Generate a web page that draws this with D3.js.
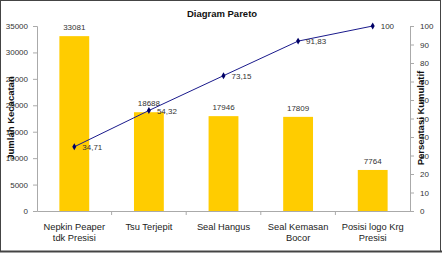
<!DOCTYPE html>
<html><head><meta charset="utf-8">
<script src="https://cdn.jsdelivr.net/npm/d3@7"></script>
<style>body{margin:0;background:#fff}svg{display:block;font-family:"Liberation Sans",Arial,sans-serif}</style>
</head><body><svg id="c" width="442" height="253"></svg>
<script>
const categories = [["Nepkin Peaper","tdk Presisi"],["Tsu Terjepit"],["Seal Hangus"],["Seal Kemasan","Bocor"],["Posisi logo Krg","Presisi"]];
const counts = [33081, 18688, 17946, 17809, 7764];
const cumulative = [34.71, 54.32, 73.15, 91.83, 100];
const cumLabels = ["34,71","54,32","73,15","91,83","100"];
const leftTicks = [0,5000,10000,15000,20000,25000,30000,35000];
const rightTicks = [0,10,20,30,40,50,60,70,80,90,100];

const svg = d3.select("#c");
const W=442,H=253;
const m={l:37,r:410,t:26,b:211};
svg.append("rect").attr("x",0.5).attr("y",0.5).attr("width",W-2).attr("height",H-2).attr("fill","#fff").attr("stroke","#444").attr("stroke-width",1);
svg.append("line").attr("x1",0).attr("x2",W).attr("y1",251.5).attr("y2",251.5).attr("stroke","#444").attr("stroke-width",2);

const x = d3.scaleBand().domain(d3.range(categories.length)).range([m.l,m.r]).paddingInner(0).paddingOuter(0);
const yL = d3.scaleLinear().domain([0,35000]).range([m.b,m.t]);
const yR = d3.scaleLinear().domain([0,100]).range([m.b,m.t]);

svg.append("text").attr("x",222).attr("y",17).attr("text-anchor","middle").attr("font-weight","bold").attr("font-size",9.5).attr("fill","#111").text("Diagram Pareto");

// bars
const bw = x.bandwidth()*0.4;
svg.selectAll(".bar").data(counts).join("rect")
  .attr("x",(d,i)=>x(i)+x.bandwidth()/2-bw/2).attr("width",bw)
  .attr("y",d=>yL(d)).attr("height",d=>yL(0)-yL(d)).attr("fill","#FFCC00");
svg.selectAll(".bl").data(counts).join("text")
  .attr("x",(d,i)=>x(i)+x.bandwidth()/2).attr("y",d=>yL(d)-6)
  .attr("text-anchor","middle").attr("font-size",8).attr("fill","#333").text(d=>d);

// left axis
const ga = svg.append("g").attr("transform",`translate(${m.l},0)`)
  .call(d3.axisLeft(yL).tickValues(leftTicks).tickSize(4).tickPadding(5).tickFormat(d3.format("d")));
ga.select(".domain").attr("stroke","#aaa");
ga.selectAll(".tick line").attr("stroke","#aaa");
ga.selectAll("text").attr("font-size",8).attr("fill","#333").attr("font-family","Liberation Sans, Arial, sans-serif");

// right axis
const gr = svg.append("g").attr("transform",`translate(${m.r},0)`)
  .call(d3.axisRight(yR).tickValues(rightTicks).tickSize(4).tickPadding(6));
gr.select(".domain").attr("stroke","#aaa");
gr.selectAll(".tick line").attr("stroke","#aaa");
gr.selectAll("text").attr("font-size",8).attr("fill","#333").attr("font-family","Liberation Sans, Arial, sans-serif");

// x axis
const gx = svg.append("g").attr("transform",`translate(0,${m.b})`)
  .call(d3.axisBottom(x).tickValues([]).tickSizeOuter(0));
gx.select(".domain").attr("stroke","#aaa");
svg.selectAll(".xt").data(d3.range(1,categories.length)).join("line")
  .attr("x1",i=>x(i)).attr("x2",i=>x(i)).attr("y1",m.b).attr("y2",m.b+4).attr("stroke","#aaa");
categories.forEach((c,i)=>{
  const t=svg.append("text").attr("x",x(i)+x.bandwidth()/2).attr("y",230).attr("text-anchor","middle").attr("font-size",9.3).attr("fill","#222");
  c.forEach((s,j)=>t.append("tspan").attr("x",x(i)+x.bandwidth()/2).attr("dy",j?11:0).text(s));
});

// line
const line = d3.line().x((d,i)=>x(i)+x.bandwidth()/2).y(d=>yR(d));
svg.append("path").datum(cumulative).attr("d",line).attr("fill","none").attr("stroke","#1a1a8c").attr("stroke-width",1);
svg.selectAll(".pt").data(cumulative).join("path")
  .attr("d",d3.symbol().type(d3.symbolDiamond).size(14))
  .attr("transform",(d,i)=>`translate(${x(i)+x.bandwidth()/2},${yR(d)})`).attr("fill","#000066");
svg.selectAll(".pl").data(cumulative).join("text")
  .attr("x",(d,i)=>x(i)+x.bandwidth()/2+8).attr("y",d=>yR(d)+3)
  .attr("font-size",8).attr("fill","#333").text((d,i)=>cumLabels[i]);

// axis titles
svg.append("text").attr("transform","translate(14,118) rotate(-90)").attr("text-anchor","middle")
  .attr("font-weight","bold").attr("font-size",9.5).attr("fill","#111").text("Jumlah Kecacatan");
svg.append("text").attr("transform","translate(424,118) rotate(-90)").attr("text-anchor","middle")
  .attr("font-weight","bold").attr("font-size",9.5).attr("fill","#111").text("Persentasi Kumulatif");
</script></body></html>
